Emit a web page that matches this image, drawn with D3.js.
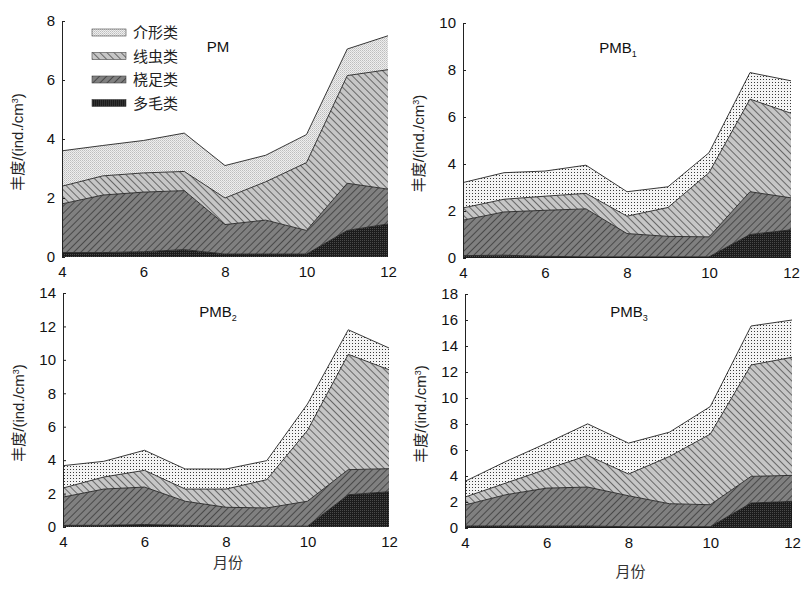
<!DOCTYPE html>
<html>
<head>
<meta charset="utf-8">
<script src="https://cdn.jsdelivr.net/npm/d3@7/dist/d3.min.js"></script>
<style>
  body { margin: 0; background: #fff; }
  svg { display: block; font-family: "Liberation Sans", Arial, sans-serif; }
  .axis text { font-size: 15px; fill: #111; }
  .axis path, .axis line { stroke: #222; stroke-width: 1; }
</style>
</head>
<body>
<div class="graphic"></div>
<script>
// months on x
var months = [4, 5, 6, 7, 8, 9, 10, 11, 12];
var groupNames = ["介形类", "线虫类", "桡足类", "多毛类"]; // legend order, top to bottom

// PM
var pmPoly = [0.15, 0.15, 0.18, 0.25, 0.1, 0.1, 0.1, 0.9, 1.12];
var pmCope = [1.65, 1.95, 2.02, 2.0, 1.0, 1.15, 0.8, 1.6, 1.18];
var pmNema = [0.6, 0.65, 0.65, 0.65, 0.9, 1.3, 2.3, 3.65, 4.05];
var pmOstr = [1.2, 1.03, 1.1, 1.3, 1.1, 0.9, 0.95, 0.9, 1.15];
// PMB1
var b1Poly = [0.1, 0.12, 0.07, 0.05, 0.05, 0.05, 0.05, 1.0, 1.2];
var b1Cope = [1.51, 1.84, 1.96, 2.04, 0.99, 0.87, 0.85, 1.82, 1.36];
var b1Nema = [0.52, 0.54, 0.6, 0.66, 0.74, 1.23, 2.73, 3.94, 3.6];
var b1Ostr = [1.08, 1.13, 1.07, 1.2, 1.04, 0.88, 0.85, 1.13, 1.38];
// PMB2
var b2Poly = [0.1, 0.1, 0.15, 0.1, 0.05, 0.05, 0.05, 1.93, 2.11];
var b2Cope = [1.69, 2.17, 2.24, 1.44, 1.13, 1.09, 1.49, 1.5, 1.38];
var b2Nema = [0.54, 0.72, 1.0, 0.73, 1.09, 1.69, 4.24, 6.9, 5.92];
var b2Ostr = [1.34, 0.94, 1.2, 1.2, 1.2, 1.14, 1.58, 1.47, 1.3];
// PMB3
var b3Poly = [0.15, 0.15, 0.15, 0.15, 0.1, 0.1, 0.1, 1.92, 2.05];
var b3Cope = [1.62, 2.41, 2.92, 3.0, 2.38, 1.77, 1.69, 2.05, 2.0];
var b3Nema = [0.61, 0.9, 1.46, 2.43, 1.67, 3.63, 5.43, 8.57, 9.08];
var b3Ostr = [1.21, 1.66, 2.0, 2.43, 2.38, 1.87, 2.12, 3.0, 2.87];

var yMaxes = [8, 10, 14, 18];
var xTicks = [4, 6, 8, 10, 12];

var panels = [
  { name: "PM", sub: "", series: [pmPoly, pmCope, pmNema, pmOstr], ymax: yMaxes[0],
    x0: 62, x1: 388, yt: 21, yb: 257, tx: 218, ty: 52, legend: true, ostr: "url(#pOstrFine)" },
  { name: "PMB", sub: "1", series: [b1Poly, b1Cope, b1Nema, b1Ostr], ymax: yMaxes[1],
    x0: 463, x1: 791, yt: 23, yb: 258, tx: 618, ty: 53 },
  { name: "PMB", sub: "2", series: [b2Poly, b2Cope, b2Nema, b2Ostr], ymax: yMaxes[2],
    x0: 63, x1: 389, yt: 293, yb: 527, tx: 218, ty: 317, xlabY: 568 },
  { name: "PMB", sub: "3", series: [b3Poly, b3Cope, b3Nema, b3Ostr], ymax: yMaxes[3],
    x0: 465, x1: 792, yt: 294, yb: 528, tx: 629, ty: 317, xlabY: 577 }
];

// stacking keys, bottom to top
var keys = ["poly", "cope", "nema", "ostr"];
var fills = { poly: "url(#pPoly)", cope: "url(#pCope)", nema: "url(#pNema)", ostr: "url(#pOstr)" };
var legendKeys = ["ostr", "nema", "cope", "poly"];

var svg = d3.select(".graphic").append("svg")
  .attr("width", 812).attr("height", 589);

var defs = svg.append("defs");

// dotted - 介形类
var p = defs.append("pattern").attr("id", "pOstr").attr("patternUnits", "userSpaceOnUse")
  .attr("width", 3).attr("height", 3);
p.append("rect").attr("width", 3).attr("height", 3).attr("fill", "#f4f4f4");
p.append("rect").attr("x", 1).attr("y", 1).attr("width", 1).attr("height", 1).attr("fill", "#3a3a3a");

// the PM panel uses a finer grey stipple
p = defs.append("pattern").attr("id", "pOstrFine").attr("patternUnits", "userSpaceOnUse")
  .attr("width", 2).attr("height", 2);
p.append("rect").attr("width", 2).attr("height", 2).attr("fill", "#eeeeee");
p.append("rect").attr("x", 0).attr("y", 0).attr("width", 1).attr("height", 1).attr("fill", "#bdbdbd");
p.append("rect").attr("x", 1).attr("y", 1).attr("width", 1).attr("height", 1).attr("fill", "#cfcfcf");

// back diagonal - 线虫类
p = defs.append("pattern").attr("id", "pNema").attr("patternUnits", "userSpaceOnUse")
  .attr("width", 5).attr("height", 5).attr("patternTransform", "rotate(-45)");
p.append("rect").attr("width", 5).attr("height", 5).attr("fill", "#c6c6c6");
p.append("line").attr("x1", 0).attr("y1", 0).attr("x2", 0).attr("y2", 5)
  .attr("stroke", "#333").attr("stroke-width", 1.3);

// forward diagonal - 桡足类
p = defs.append("pattern").attr("id", "pCope").attr("patternUnits", "userSpaceOnUse")
  .attr("width", 5).attr("height", 5).attr("patternTransform", "rotate(45)");
p.append("rect").attr("width", 5).attr("height", 5).attr("fill", "#808080");
p.append("line").attr("x1", 0).attr("y1", 0).attr("x2", 0).attr("y2", 5)
  .attr("stroke", "#2a2a2a").attr("stroke-width", 1.3);

// dark stipple - 多毛类
p = defs.append("pattern").attr("id", "pPoly").attr("patternUnits", "userSpaceOnUse")
  .attr("width", 2).attr("height", 2);
p.append("rect").attr("width", 2).attr("height", 2).attr("fill", "#1c1c1c");
p.append("rect").attr("x", 0).attr("y", 0).attr("width", 1).attr("height", 1).attr("fill", "#4a4a4a");

panels.forEach(function(pn) {
  var rows = months.map(function(m, i) {
    return { month: m, poly: pn.series[0][i], cope: pn.series[1][i], nema: pn.series[2][i], ostr: pn.series[3][i] };
  });
  var stacked = d3.stack().keys(keys)(rows);
  var fillOf = function(k) { return (k === "ostr" && pn.ostr) ? pn.ostr : fills[k]; };

  var x = d3.scaleLinear().domain([4, 12]).range([pn.x0, pn.x1]);
  var y = d3.scaleLinear().domain([0, pn.ymax]).range([pn.yb, pn.yt]);

  var g = svg.append("g");

  var area = d3.area()
    .x(function(d) { return x(d.data.month); })
    .y0(function(d) { return y(d[0]); })
    .y1(function(d) { return y(d[1]); });
  var topLine = d3.line()
    .x(function(d) { return x(d.data.month); })
    .y(function(d) { return y(d[1]); });

  g.selectAll("path.layer").data(stacked).enter().append("path")
    .attr("class", "layer")
    .attr("d", area)
    .attr("fill", function(d) { return fillOf(d.key); });

  g.selectAll("path.edge").data(stacked).enter().append("path")
    .attr("class", "edge")
    .attr("d", topLine)
    .attr("fill", "none")
    .attr("stroke", "#222")
    .attr("stroke-width", 0.9);

  // y axis, ticks inward
  var yAxis = d3.axisLeft(y).tickValues(d3.range(0, pn.ymax + 1, 2))
    .tickSizeInner(-3).tickSizeOuter(0).tickPadding(7);
  g.append("g").attr("class", "axis")
    .attr("transform", "translate(" + pn.x0 + ",0)")
    .call(yAxis);

  // x tick labels only
  var xAxis = d3.axisBottom(x).tickValues(xTicks).tickSize(0).tickPadding(9);
  var xa = g.append("g").attr("class", "axis")
    .attr("transform", "translate(0," + pn.yb + ")")
    .call(xAxis);
  xa.select(".domain").remove();

  // y label
  var yl = g.append("text")
    .attr("transform", "translate(" + (pn.x0 - 39) + "," + ((pn.yt + pn.yb) / 2 + 3) + ") rotate(-90)")
    .attr("text-anchor", "middle")
    .attr("font-size", 15)
    .attr("fill", "#222");
  yl.append("tspan").attr("font-family", "'Noto Sans CJK SC', sans-serif").text("丰度");
  yl.append("tspan").text("/(ind./cm");
  yl.append("tspan").attr("font-size", 9).attr("baseline-shift", "super").text("3");
  yl.append("tspan").text(")");

  // panel title
  var t = g.append("text")
    .attr("x", pn.tx)
    .attr("y", pn.ty)
    .attr("text-anchor", "middle")
    .attr("font-size", 15)
    .attr("fill", "#111")
    .text(pn.name);
  if (pn.sub) {
    t.append("tspan").attr("font-size", 9).attr("dy", 4).text(pn.sub);
  }

  if (pn.xlabY) {
    g.append("text")
      .attr("x", (pn.x0 + pn.x1) / 2 + 2)
      .attr("y", pn.xlabY)
      .attr("text-anchor", "middle")
      .attr("font-size", 15)
      .attr("font-family", "'Noto Sans CJK SC', sans-serif")
      .attr("fill", "#333")
      .text("月份");
  }

  if (pn.legend) {
    var lg = g.append("g").attr("transform", "translate(92,29)");
    var items = lg.selectAll("g").data(legendKeys).enter().append("g")
      .attr("transform", function(d, i) { return "translate(0," + (i * 23.5) + ")"; });
    items.append("rect")
      .attr("width", 34).attr("height", 7)
      .attr("fill", function(d) { return fillOf(d); })
      .attr("stroke", "#444").attr("stroke-width", 0.6);
    items.append("text")
      .data(groupNames)
      .attr("x", 41).attr("y", 9)
      .attr("font-size", 15)
      .attr("font-family", "'Noto Sans CJK SC', sans-serif")
      .attr("fill", "#222")
      .text(function(d) { return d; });
  }
});
</script>
</body>
</html>
